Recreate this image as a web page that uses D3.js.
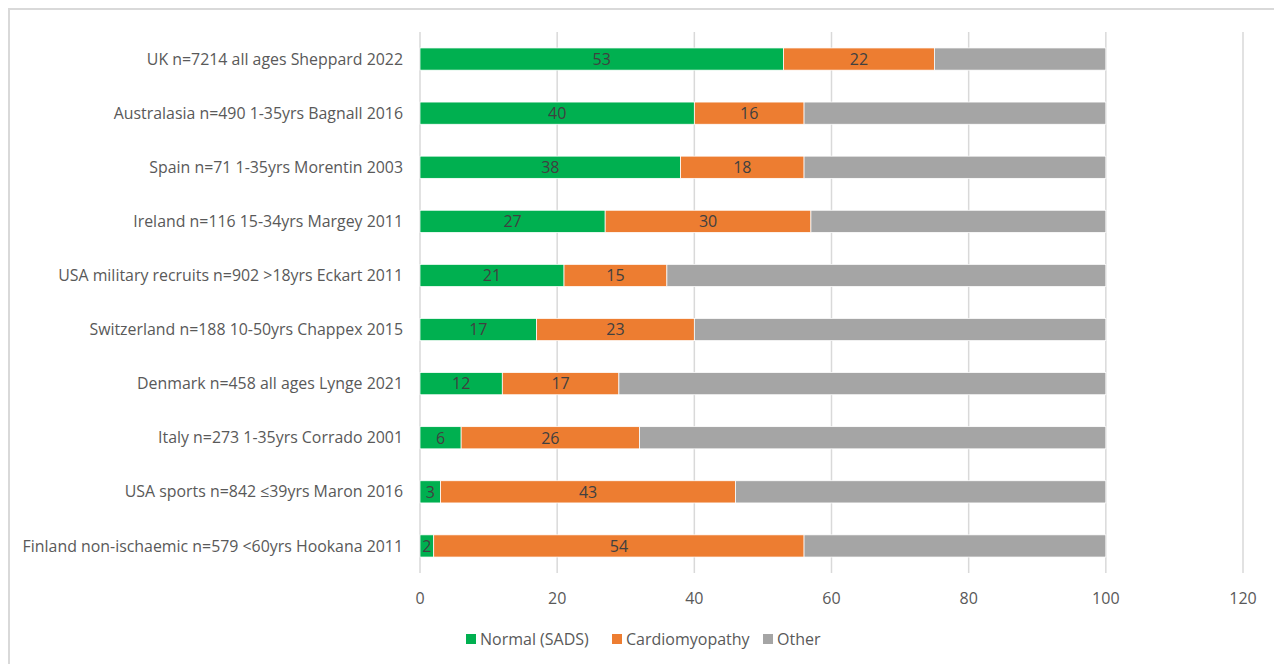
<!DOCTYPE html>
<html lang="en">
<head>
    <meta charset="UTF-8">
    <title>Stacked bar</title>
    <script src="https://cdn.jsdelivr.net/npm/d3@7/dist/d3.min.js"></script>
    <style>
        body { margin: 0; background: #fff; }
        text { font-family: "Open Sans", "Liberation Sans", sans-serif; }
    </style>
</head>
<body>
    <div id="container"></div>
    <script>
        const width = 1274;
        const height = 664;
        const margin = { top: 32, left: 420, right: 31, bottom: 91 };

        const categories = [
            'UK n=7214 all ages Sheppard 2022',
            'Australasia n=490 1-35yrs Bagnall 2016',
            'Spain n=71 1-35yrs Morentin 2003',
            'Ireland n=116 15-34yrs Margey 2011',
            'USA military recruits n=902 >18yrs Eckart 2011',
            'Switzerland n=188 10-50yrs Chappex 2015',
            'Denmark n=458 all ages Lynge 2021',
            'Italy n=273 1-35yrs Corrado 2001',
            'USA sports n=842 ≤39yrs Maron 2016',
            'Finland non-ischaemic n=579 <60yrs Hookana 2011'
        ];
        const normal = [53, 40, 38, 27, 21, 17, 12, 6, 3, 2];
        const cardio = [22, 16, 18, 30, 15, 23, 17, 26, 43, 54];
        const other = [25, 44, 44, 43, 64, 60, 71, 68, 54, 44];
        const xTicks = [0, 20, 40, 60, 80, 100, 120];

        const seriesNames = ['Normal (SADS)', 'Cardiomyopathy', 'Other'];
        const colors = ['#00b050', '#ed7d31', '#a5a5a5'];

        const rows = categories.map((c, i) => ({ name: c, normal: normal[i], cardio: cardio[i], other: other[i] }));
        const stack = d3.stack().keys(['normal', 'cardio', 'other'])(rows);

        const x = d3.scaleLinear().domain([0, 120]).range([margin.left, width - margin.right]);
        const y = d3.scaleBand().domain(categories).range([margin.top, height - margin.bottom]).paddingInner(0.59).paddingOuter(0.295);

        const svg = d3.select('#container').append('svg')
            .attr('width', width)
            .attr('height', height);

        // frame
        svg.append('rect')
            .attr('x', 9).attr('y', 9)
            .attr('width', width).attr('height', height)
            .attr('fill', 'none')
            .attr('stroke', '#d9d9d9')
            .attr('stroke-width', 2);

        // grid
        svg.append('g').selectAll('line').data(xTicks).join('line')
            .attr('x1', d => x(d)).attr('x2', d => x(d))
            .attr('y1', margin.top).attr('y2', height - margin.bottom)
            .attr('stroke', '#d9d9d9')
            .attr('stroke-width', 1.5);

        // x tick labels
        svg.append('g').selectAll('text').data(xTicks).join('text')
            .attr('x', d => x(d))
            .attr('y', 604)
            .attr('text-anchor', 'middle')
            .attr('font-size', 16)
            .attr('fill', '#595959')
            .text(d => d);

        // y labels
        svg.append('g').selectAll('text').data(categories).join('text')
            .attr('x', 403)
            .attr('y', d => y(d) + y.bandwidth() / 2)
            .attr('dy', '0.35em')
            .attr('text-anchor', 'end')
            .attr('font-size', 15.9)
            .attr('fill', '#595959')
            .text(d => d);

        // bars
        const layers = svg.append('g').selectAll('g').data(stack).join('g')
            .attr('fill', (d, i) => colors[i]);

        layers.selectAll('rect').data(d => d).join('rect')
            .attr('x', d => x(d[0]))
            .attr('y', d => y(d.data.name))
            .attr('width', d => x(d[1]) - x(d[0]))
            .attr('height', y.bandwidth())
            .attr('stroke', '#fff')
            .attr('stroke-width', 0.75);

        // data labels (first two series only)
        layers.filter((d, i) => i < 2).selectAll('text').data(d => d).join('text')
            .attr('x', d => (x(d[0]) + x(d[1])) / 2)
            .attr('y', d => y(d.data.name) + y.bandwidth() / 2)
            .attr('dy', '0.36em')
            .attr('text-anchor', 'middle')
            .attr('font-size', 16)
            .attr('fill', '#404040')
            .text(d => d[1] - d[0]);

        // legend
        const legendX = [466, 612, 763];
        const legend = svg.append('g').selectAll('g').data(seriesNames).join('g')
            .attr('transform', (d, i) => `translate(${legendX[i]}, 639)`);
        legend.append('rect')
            .attr('x', 0).attr('y', -5)
            .attr('width', 10).attr('height', 10)
            .attr('fill', (d, i) => colors[i]);
        legend.append('text')
            .attr('x', 14)
            .attr('dy', '0.35em')
            .attr('font-size', 16)
            .attr('fill', '#595959')
            .text(d => d);
    </script>
</body>
</html>
